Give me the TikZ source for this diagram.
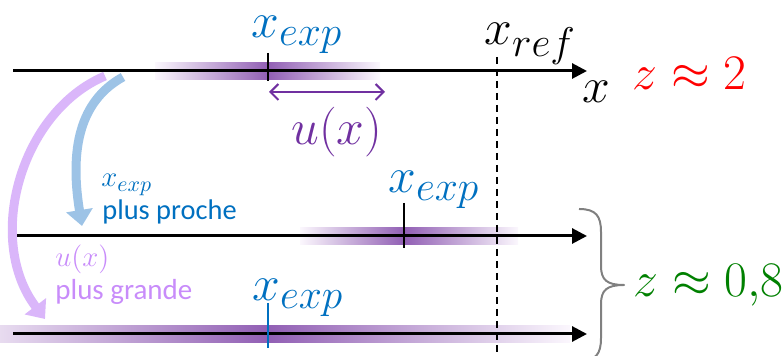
\documentclass[tikz,border=0pt]{standalone}
\usepackage{fontspec}
\newfontfamily\calib{Carlito}
\usetikzlibrary{arrows.meta}
\definecolor{expblue}{RGB}{0,112,192}
\definecolor{uviolet}{RGB}{112,48,160}
\definecolor{procheblue}{RGB}{157,195,230}
\definecolor{grandelilac}{RGB}{218,182,250}
\definecolor{grandetext}{RGB}{200,140,250}
\definecolor{banddark}{RGB}{145,95,180}
\definecolor{bandmid}{RGB}{195,155,225}
\definecolor{bandlight}{RGB}{251,247,253}
\definecolor{zgreen}{RGB}{0,128,0}
\newcommand{\bigmath}{\fontsize{28.5}{33}\selectfont}
\newcommand{\smallmath}{\fontsize{15}{17}\selectfont}
\tikzset{
  axis/.style={line width=1.5pt, -{Triangle[length=7.5pt,width=7.5pt]}},
  tick/.style={line width=1pt},
  refline/.style={line width=1pt, dash pattern=on 3.5pt off 2.5pt},
  fatarrow/.style={line width=4.5pt, -{Triangle[length=8pt,width=13pt]}},
  lab/.style={anchor=base west, inner sep=0pt},
}
\begin{document}
\begin{tikzpicture}[x=0.5pt, y=-0.5pt, line join=round, >=stealth]
  \useasboundingbox (0,0) rectangle (782,356);
  % bandes d'incertitude
  \foreach \y/\l/\c/\r in {71/155/268/380, 236/300/404/518, 334/-60/268/570}{
    \shade[left color=bandlight, middle color=bandmid, right color=banddark] (\l,\y-8.5) rectangle (\c,\y+8.5);
    \shade[left color=banddark, middle color=bandmid, right color=bandlight] (\c,\y-8.5) rectangle (\r,\y+8.5);
  }
  % axes
  \coordinate (O1) at (13,71);  \coordinate (E1) at (587,71);
  \coordinate (O2) at (13,236); \coordinate (E2) at (587,236);
  \coordinate (O3) at (13,334); \coordinate (E3) at (587,334);
  \draw[axis] (O1) -- (E1);
  \draw[axis] (O2) -- (E2);
  \draw[axis] (O3) -- (E3);
  % valeur de reference
  \coordinate (R1) at (497,57); \coordinate (R2) at (497,360);
  \draw[refline] (R1) -- (R2);
  \node[lab] (xref) at (484,45) {\bigmath$x_{ref}$};
  \node[lab] (xlab) at (582,103) {\fontsize{24}{28}\selectfont$x$};
  % mesures
  \coordinate (T1a) at (268,53);  \coordinate (T1b) at (268,81);
  \coordinate (T2a) at (404,203); \coordinate (T2b) at (404,248);
  \coordinate (T3a) at (268,303); \coordinate (T3b) at (268,348);
  \draw[tick] (T1a) -- (T1b);
  \draw[tick] (T2a) -- (T2b);
  \draw[tick, expblue] (T3a) -- (T3b);
  \node[lab, expblue] (xexpA) at (251,38)  {\bigmath$x_{exp}$};
  \node[lab, expblue] (xexpB) at (388,193) {\bigmath$x_{exp}$};
  \node[lab, expblue] (xexpC) at (252,301) {\bigmath$x_{exp}$};
  % incertitude
  \coordinate (U1) at (269,92); \coordinate (U2) at (385,92);
  \draw[uviolet, line width=1pt, {Straight Barb[length=4pt,width=8pt]}-{Straight Barb[length=4pt,width=8pt]}] (U1) -- (U2);
  \node[lab, uviolet] (uA) at (291,145) {\fontsize{23}{27}\selectfont$u(x)$};
  % facteurs z
  \node[lab, red] (zA) at (632,90) {\bigmath$z \approx 2$};
  \node[lab, zgreen] (zB) at (633,297) {\bigmath$z \approx 0{,}8$};
  \draw[gray, line width=1pt] (579,209) .. controls (596,209) and (601,216) .. (601,232) -- (601,266)
    .. controls (601,280) and (607,285) .. (624,285) .. controls (607,285) and (601,290) .. (601,304)
    -- (601,338) .. controls (601,354) and (596,361) .. (579,361);
  % fleches explicatives
  \coordinate (P1) at (123,77); \coordinate (P2) at (82,226);
  \draw[fatarrow, procheblue] (P1) .. controls (85,98) and (68,140) .. (P2);
  \coordinate (G1) at (105,76); \coordinate (G2) at (45,319);
  \draw[fatarrow, grandelilac] (G1) .. controls (20,112) and (-15,240) .. (G2);
  \node[lab, expblue] (procheA) at (101,187) {\smallmath$x_{exp}$};
  \node[lab, expblue] (procheB) at (102,220) {\calib\fontsize{14.2}{17}\selectfont plus proche};
  \node[lab, grandetext] (grandeA) at (55,267) {\fontsize{15.5}{18}\selectfont$u(x)$};
  \node[lab, grandetext] (grandeB) at (55,300) {\calib\fontsize{14.5}{17}\selectfont plus grande};
\end{tikzpicture}
\end{document}
